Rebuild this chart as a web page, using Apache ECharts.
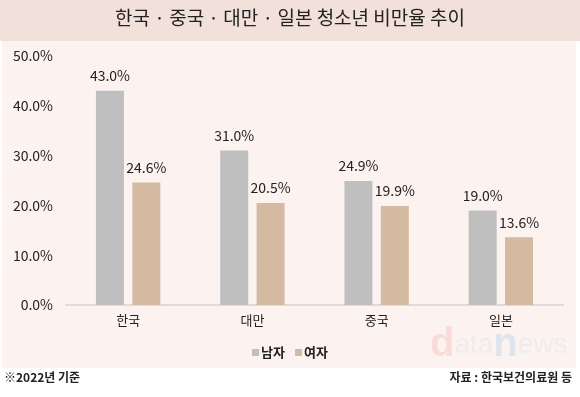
<!DOCTYPE html>
<html style="height: 100%">
<head>
    <meta charset="utf-8">
    <script src="https://cdn.jsdelivr.net/npm/echarts@6/dist/echarts.min.js"></script>
</head>
<body style="height: 100%; width: 100%; margin: 0; background-color: #ffffff;">
    <div id="container" style="width: 580px; height: 397px;"></div>
    <script type="text/javascript">
        var categories = ['한국', '대만', '중국', '일본'];
        var maleValues = [43.0, 31.0, 24.9, 19.0];
        var femaleValues = [24.6, 20.5, 19.9, 13.6];
        var seriesNames = ['남자', '여자'];

        var font = 'Noto Sans CJK KR';
        var dom = document.getElementById('container');
        var myChart = echarts.init(dom);

        function pct(v) {
            return Number(v).toFixed(1) + '%';
        }

        var option = {
            backgroundColor: '#ffffff',
            color: ['#bfbfbf', '#d3baa0'],
            textStyle: { fontFamily: font },
            graphic: [
                // title band
                { type: 'rect', z: -10, shape: { x: 0, y: 0, width: 580, height: 41 }, style: { fill: '#f2e0da' } },
                // chart background
                { type: 'rect', z: -10, shape: { x: 2, y: 41, width: 574, height: 327 }, style: { fill: '#fcf2ef' } },
                {
                    type: 'text', left: 'center', top: 8,
                    style: { text: '한국 · 중국 · 대만 · 일본 청소년 비만율 추이', fontSize: 19, fontFamily: font, fill: '#222' }
                },
                // watermark
                {
                    type: 'text', z: -5, left: 430, top: 325,
                    style: {
                        text: '{d|d}{l|ata}{n|n}{l|ews}',
                        fontFamily: 'Liberation Sans',
                        rich: {
                            d: { fontSize: 40, fontWeight: 'bold', fill: '#f8dcd8', fontFamily: 'Liberation Sans' },
                            n: { fontSize: 40, fontWeight: 'bold', fill: '#dfe5ee', fontFamily: 'Liberation Sans' },
                            l: { fontSize: 28, fill: '#ededed', fontFamily: 'Liberation Sans' }
                        }
                    }
                },
                {
                    type: 'text', left: 4, top: 371,
                    style: { text: '※2022년 기준', fontSize: 12, fontWeight: 'bold', fontFamily: font, fill: '#222' }
                },
                {
                    type: 'text', right: 8, top: 371,
                    style: { text: '자료 : 한국보건의료원 등', fontSize: 12, fontWeight: 'bold', fontFamily: font, fill: '#222' }
                }
            ],
            legend: {
                data: seriesNames,
                left: 'center',
                top: 341,
                icon: 'rect',
                itemWidth: 7,
                itemHeight: 7,
                itemGap: 10,
                textStyle: { fontSize: 13, fontWeight: 'bold', color: '#222', fontFamily: font, padding: [0, 0, 0, -3] }
            },
            grid: {
                left: 66,
                right: 17,
                top: 56,
                bottom: 92,
                containLabel: false
            },
            xAxis: {
                type: 'category',
                data: categories,
                axisTick: { show: false },
                axisLine: { lineStyle: { color: '#dcdcdc', width: 2 } },
                axisLabel: { fontSize: 13, color: '#222', margin: 9, fontFamily: font }
            },
            yAxis: {
                type: 'value',
                min: 0,
                max: 50,
                interval: 10,
                splitLine: { show: false },
                axisLine: { show: false },
                axisTick: { show: false },
                axisLabel: { fontSize: 14, color: '#222', margin: 13, fontFamily: font, formatter: pct }
            },
            series: [
                {
                    name: seriesNames[0],
                    type: 'bar',
                    data: maleValues,
                    barWidth: 28,
                    barGap: '30%',
                    label: { show: true, position: 'top', distance: 8, fontSize: 14, color: '#222', fontFamily: font, formatter: function (p) { return pct(p.value); } }
                },
                {
                    name: seriesNames[1],
                    type: 'bar',
                    data: femaleValues,
                    barWidth: 28,
                    barGap: '30%',
                    label: { show: true, position: 'top', distance: 8, fontSize: 14, color: '#222', fontFamily: font, formatter: function (p) { return pct(p.value); } }
                }
            ]
        };

        myChart.setOption(option, true);
    </script>
</body>
</html>
